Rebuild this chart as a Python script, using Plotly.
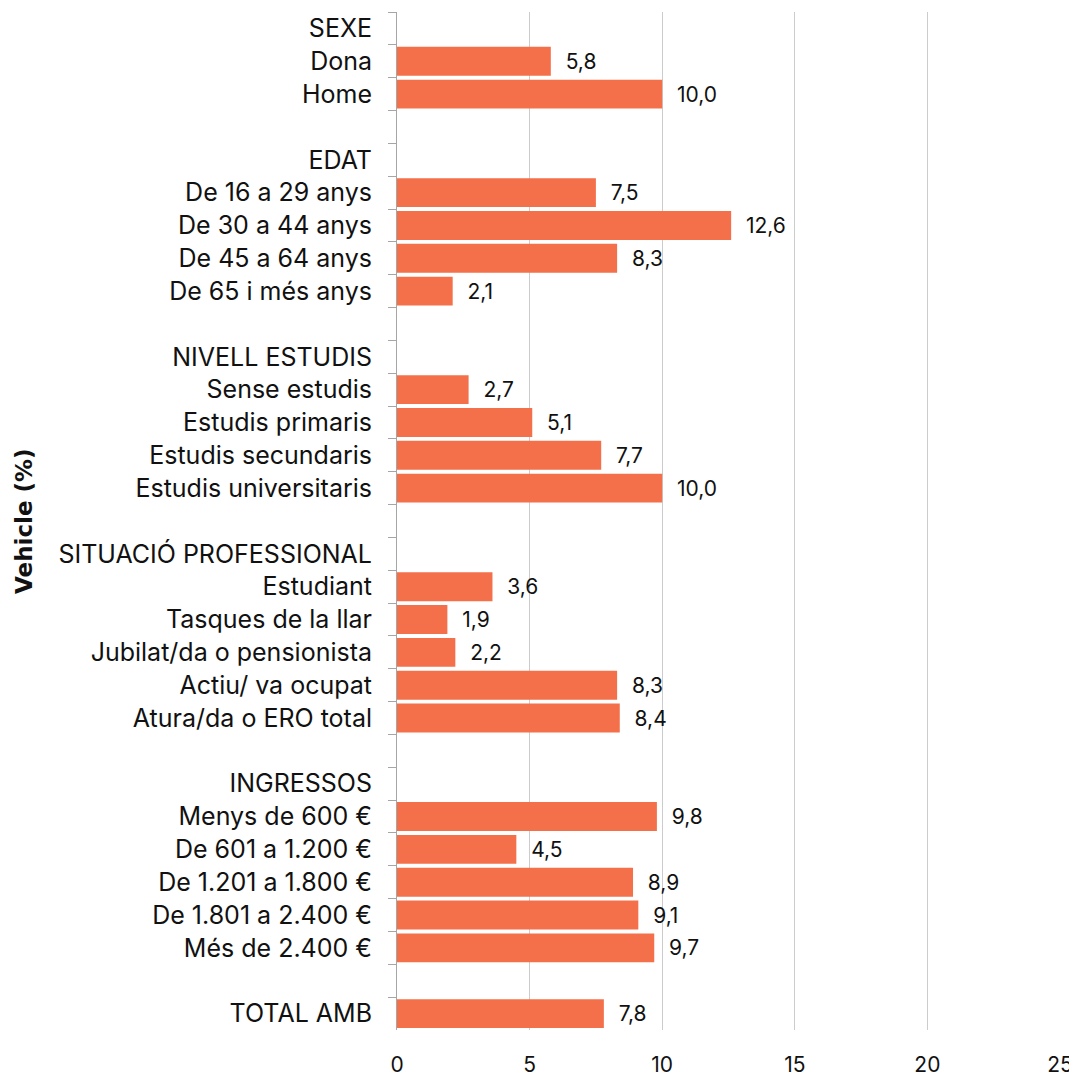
import plotly.graph_objects as go

# Rows top to bottom; group headers and spacer rows carry no value
categories = [
    "SEXE", "Dona", "Home", " ",
    "EDAT", "De 16 a 29 anys", "De 30 a 44 anys", "De 45 a 64 anys", "De 65 i més anys", "  ",
    "NIVELL ESTUDIS", "Sense estudis", "Estudis primaris", "Estudis secundaris", "Estudis universitaris", "   ",
    "SITUACIÓ PROFESSIONAL", "Estudiant", "Tasques de la llar", "Jubilat/da o pensionista",
    "Actiu/ va ocupat", "Atura/da o ERO total", "    ",
    "INGRESSOS", "Menys de 600 €", "De 601 a 1.200 €", "De 1.201 a 1.800 €", "De 1.801 a 2.400 €",
    "Més de 2.400 €", "     ",
    "TOTAL AMB",
]
values = [
    None, 5.8, 10.0, None,
    None, 7.5, 12.6, 8.3, 2.1, None,
    None, 2.7, 5.1, 7.7, 10.0, None,
    None, 3.6, 1.9, 2.2, 8.3, 8.4, None,
    None, 9.8, 4.5, 8.9, 9.1, 9.7, None,
    7.8,
]
x_ticks = [0, 5, 10, 15, 20, 25]

labels = [
    "" if v is None else "\u00a0\u00a0" + f"{v:.1f}".replace(".", ",")
    for v in values
]

fig = go.Figure(
    go.Bar(
        x=values,
        y=categories,
        orientation="h",
        marker=dict(color="#F4704A", line=dict(width=0)),
        text=labels,
        textposition="outside",
        textfont=dict(size=21, color="#111111", family="Inter, sans-serif"),
        cliponaxis=False,
        hoverinfo="skip",
    )
)

# the page body adds an 8px margin, so the figure is sized to fit the window
fig.update_layout(
    width=1069,
    height=1068,
    template="plotly_white",
    plot_bgcolor="white",
    paper_bgcolor="white",
    bargap=0.12,
    showlegend=False,
    margin=dict(l=389, r=17, t=4, b=46, autoexpand=False),
    font=dict(family="Inter, sans-serif", color="#111111"),
)

fig.update_xaxes(
    range=[0, 25],
    tickvals=x_ticks,
    showgrid=True,
    gridcolor="#CCCCCC",
    gridwidth=1,
    zeroline=False,
    showline=False,
    ticks="",
    automargin=False,
    ticklabelstandoff=20,
    tickfont=dict(size=21, color="#111111"),
)

fig.update_yaxes(
    type="category",
    categoryorder="array",
    categoryarray=categories,
    autorange="reversed",
    showgrid=False,
    showline=True,
    linecolor="#A6A6A6",
    linewidth=1,
    ticks="outside",
    tickson="boundaries",
    ticklen=8,
    tickcolor="#A6A6A6",
    automargin=False,
    ticklabelstandoff=19,
    tickfont=dict(size=25, color="#111111"),
)

fig.add_annotation(
    text="<b>Vehicle (%)</b>",
    xref="paper",
    yref="paper",
    x=-0.5626,
    y=0.5,
    xanchor="center",
    yanchor="middle",
    textangle=-90,
    showarrow=False,
    font=dict(family="DejaVu Sans", size=23, color="#111111"),
)

fig.write_html("out.html")
